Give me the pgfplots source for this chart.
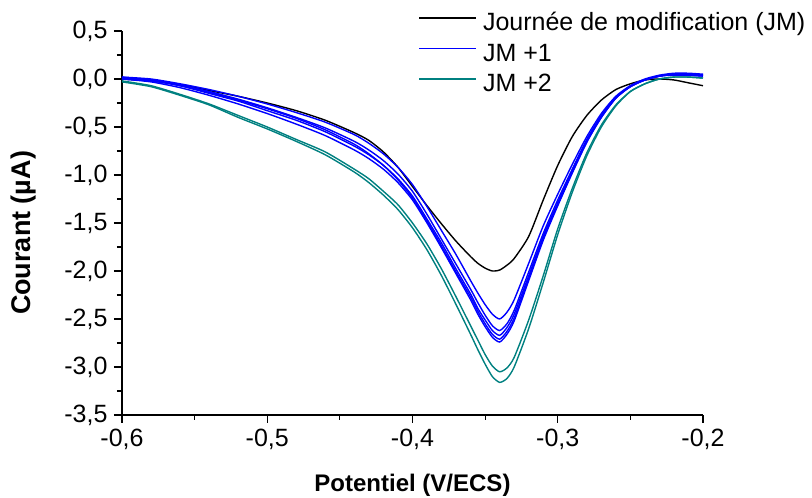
\documentclass[border=0pt]{standalone}
\usepackage{fontspec}
\setmainfont{Liberation Sans}
\usepackage{pgfplots}
\pgfplotsset{compat=1.18}
\definecolor{jmblue}{RGB}{0,0,255}
\definecolor{jmteal}{RGB}{0,128,128}
\begin{document}
\begin{tikzpicture}
\path[use as bounding box] (-122pt,-83pt) rectangle (690pt,415pt);
\begin{axis}[
  at={(0pt,0pt)}, anchor=south west,
  scale only axis, width=581pt, height=384pt,
  xmin=-0.6, xmax=-0.2, ymin=-3.5, ymax=0.5,
  axis lines=left, axis line style={-, line width=1.4pt},
  tick style={line width=1.2pt, black},
  tick align=outside, tick pos=left,
  major tick length=8pt, minor tick length=5pt, minor tick num=1,
  xtick={-0.6,-0.5,-0.4,-0.3,-0.2},
  ytick={-3.5,-3,-2.5,-2,-1.5,-1,-0.5,0,0.5},
  /pgf/number format/assume math mode=true,
  /pgf/number format/.cd, use comma, fixed, fixed zerofill, precision=1, /pgfplots/.cd,
  tick label style={font=\fontsize{25}{29}\selectfont},
  xticklabel style={yshift=-3pt},
  yticklabel style={xshift=-3pt},
  xlabel={Potentiel (V/ECS)},
  ylabel={Courant (µA)},
  xlabel style={font=\fontsize{24}{28}\selectfont\bfseries, at={(axis description cs:0.5,0)}, anchor=base, yshift=-76pt},
  ylabel style={font=\fontsize{27}{31}\selectfont\bfseries, at={(axis description cs:-0.169,0.474)}, anchor=center},
  legend style={draw=none, fill=none, at={(rel axis cs:0.505,1.05)}, anchor=north west,
    font=\fontsize{25}{29}\selectfont, legend cell align=left,
    nodes={inner sep=0pt, text height=17pt, text depth=5pt},
    row sep=8.5pt, column sep=6pt},
  legend image code/.code={\draw[#1] (0pt,7pt) -- (57pt,7pt);},
  every axis plot/.append style={line width=1.4pt, smooth, tension=0.4},
]
\addplot[black] coordinates {
(-0.60,0.00) (-0.58,-0.02) (-0.56,-0.06) (-0.54,-0.12) (-0.52,-0.18) (-0.50,-0.25)
(-0.48,-0.33) (-0.46,-0.43) (-0.44,-0.56) (-0.43,-0.64) (-0.42,-0.76) (-0.41,-0.92)
(-0.40,-1.12) (-0.39,-1.32) (-0.38,-1.51) (-0.37,-1.69) (-0.36,-1.85) (-0.355,-1.92)
(-0.35,-1.97) (-0.345,-2.00) (-0.34,-1.99) (-0.335,-1.94) (-0.33,-1.87) (-0.32,-1.64)
(-0.31,-1.26) (-0.30,-0.90) (-0.29,-0.60) (-0.28,-0.38) (-0.27,-0.22) (-0.26,-0.11)
(-0.25,-0.05) (-0.24,-0.01) (-0.23,0.00) (-0.22,-0.01) (-0.21,-0.04) (-0.20,-0.07)};
\addlegendentry{Journée de modification (JM)}
\addplot[jmblue] coordinates {
(-0.60,0.02) (-0.58,0.00) (-0.56,-0.05) (-0.54,-0.11) (-0.52,-0.18) (-0.50,-0.26)
(-0.48,-0.35) (-0.46,-0.45) (-0.44,-0.58) (-0.43,-0.67) (-0.42,-0.78) (-0.41,-0.92)
(-0.40,-1.10) (-0.39,-1.33) (-0.38,-1.58) (-0.37,-1.83) (-0.36,-2.10) (-0.355,-2.23)
(-0.35,-2.35) (-0.345,-2.45) (-0.34,-2.50) (-0.335,-2.43) (-0.33,-2.30) (-0.32,-1.92)
(-0.31,-1.53) (-0.30,-1.20) (-0.29,-0.89) (-0.28,-0.60) (-0.27,-0.36) (-0.26,-0.18)
(-0.25,-0.07) (-0.24,-0.01) (-0.23,0.03) (-0.22,0.05) (-0.21,0.05) (-0.20,0.04)};
\addlegendentry{JM +1}
\addplot[jmteal] coordinates {
(-0.60,-0.03) (-0.58,-0.08) (-0.56,-0.17) (-0.54,-0.27) (-0.52,-0.40) (-0.50,-0.52)
(-0.48,-0.65) (-0.46,-0.79) (-0.44,-0.97) (-0.43,-1.08) (-0.42,-1.21) (-0.41,-1.36)
(-0.40,-1.55) (-0.39,-1.78) (-0.38,-2.05) (-0.37,-2.35) (-0.36,-2.66) (-0.355,-2.82)
(-0.35,-2.97) (-0.345,-3.10) (-0.34,-3.16) (-0.335,-3.12) (-0.33,-3.00) (-0.32,-2.60)
(-0.31,-2.12) (-0.30,-1.62) (-0.29,-1.18) (-0.28,-0.80) (-0.27,-0.50) (-0.26,-0.28)
(-0.25,-0.13) (-0.24,-0.05) (-0.23,0.00) (-0.22,0.02) (-0.21,0.02) (-0.20,0.01)};
\addlegendentry{JM +2}
\addplot[jmblue, forget plot] coordinates {
(-0.60,0.01) (-0.58,-0.01) (-0.56,-0.06) (-0.54,-0.13) (-0.52,-0.21) (-0.50,-0.30)
(-0.48,-0.40) (-0.46,-0.51) (-0.44,-0.65) (-0.43,-0.74) (-0.42,-0.85) (-0.41,-0.99)
(-0.40,-1.17) (-0.39,-1.41) (-0.38,-1.67) (-0.37,-1.93) (-0.36,-2.19) (-0.355,-2.33)
(-0.35,-2.46) (-0.345,-2.57) (-0.34,-2.62) (-0.335,-2.55) (-0.33,-2.41) (-0.32,-2.01)
(-0.31,-1.61) (-0.30,-1.26) (-0.29,-0.94) (-0.28,-0.63) (-0.27,-0.38) (-0.26,-0.19)
(-0.25,-0.07) (-0.24,0.00) (-0.23,0.04) (-0.22,0.06) (-0.21,0.06) (-0.20,0.05)};
\addplot[jmblue, forget plot] coordinates {
(-0.60,0.00) (-0.58,-0.02) (-0.56,-0.07) (-0.54,-0.15) (-0.52,-0.23) (-0.50,-0.33)
(-0.48,-0.43) (-0.46,-0.55) (-0.44,-0.70) (-0.43,-0.79) (-0.42,-0.90) (-0.41,-1.04)
(-0.40,-1.22) (-0.39,-1.46) (-0.38,-1.71) (-0.37,-1.98) (-0.36,-2.24) (-0.355,-2.39)
(-0.35,-2.51) (-0.345,-2.62) (-0.34,-2.67) (-0.335,-2.59) (-0.33,-2.45) (-0.32,-2.05)
(-0.31,-1.64) (-0.30,-1.29) (-0.29,-0.95) (-0.28,-0.64) (-0.27,-0.39) (-0.26,-0.19)
(-0.25,-0.08) (-0.24,-0.01) (-0.23,0.03) (-0.22,0.04) (-0.21,0.04) (-0.20,0.03)};
\addplot[jmblue, forget plot] coordinates {
(-0.60,0.02) (-0.58,-0.01) (-0.56,-0.07) (-0.54,-0.14) (-0.52,-0.22) (-0.50,-0.31)
(-0.48,-0.41) (-0.46,-0.53) (-0.44,-0.68) (-0.43,-0.78) (-0.42,-0.90) (-0.41,-1.05)
(-0.40,-1.24) (-0.39,-1.48) (-0.38,-1.74) (-0.37,-2.01) (-0.36,-2.27) (-0.355,-2.42)
(-0.35,-2.55) (-0.345,-2.66) (-0.34,-2.71) (-0.335,-2.63) (-0.33,-2.49) (-0.32,-2.08)
(-0.31,-1.66) (-0.30,-1.31) (-0.29,-0.97) (-0.28,-0.65) (-0.27,-0.40) (-0.26,-0.20)
(-0.25,-0.08) (-0.24,-0.01) (-0.23,0.03) (-0.22,0.05) (-0.21,0.04) (-0.20,0.03)};
\addplot[jmblue, forget plot] coordinates {
(-0.60,0.00) (-0.58,-0.03) (-0.56,-0.09) (-0.54,-0.17) (-0.52,-0.26) (-0.50,-0.36)
(-0.48,-0.47) (-0.46,-0.59) (-0.44,-0.74) (-0.43,-0.83) (-0.42,-0.94) (-0.41,-1.08)
(-0.40,-1.26) (-0.39,-1.50) (-0.38,-1.76) (-0.37,-2.03) (-0.36,-2.30) (-0.355,-2.45)
(-0.35,-2.58) (-0.345,-2.69) (-0.34,-2.74) (-0.335,-2.66) (-0.33,-2.52) (-0.32,-2.10)
(-0.31,-1.68) (-0.30,-1.32) (-0.29,-0.98) (-0.28,-0.66) (-0.27,-0.40) (-0.26,-0.20)
(-0.25,-0.08) (-0.24,-0.01) (-0.23,0.03) (-0.22,0.05) (-0.21,0.05) (-0.20,0.04)};
\addplot[jmteal, forget plot] coordinates {
(-0.60,-0.02) (-0.58,-0.07) (-0.56,-0.16) (-0.54,-0.26) (-0.52,-0.38) (-0.50,-0.50)
(-0.48,-0.63) (-0.46,-0.76) (-0.44,-0.94) (-0.43,-1.04) (-0.42,-1.17) (-0.41,-1.31)
(-0.40,-1.50) (-0.39,-1.72) (-0.38,-1.98) (-0.37,-2.27) (-0.36,-2.57) (-0.355,-2.72)
(-0.35,-2.87) (-0.345,-2.99) (-0.34,-3.05) (-0.335,-3.01) (-0.33,-2.90) (-0.32,-2.51)
(-0.31,-2.05) (-0.30,-1.56) (-0.29,-1.14) (-0.28,-0.77) (-0.27,-0.48) (-0.26,-0.27)
(-0.25,-0.13) (-0.24,-0.05) (-0.23,0.00) (-0.22,0.02) (-0.21,0.02) (-0.20,0.01)};
\end{axis}
\end{tikzpicture}
\end{document}
